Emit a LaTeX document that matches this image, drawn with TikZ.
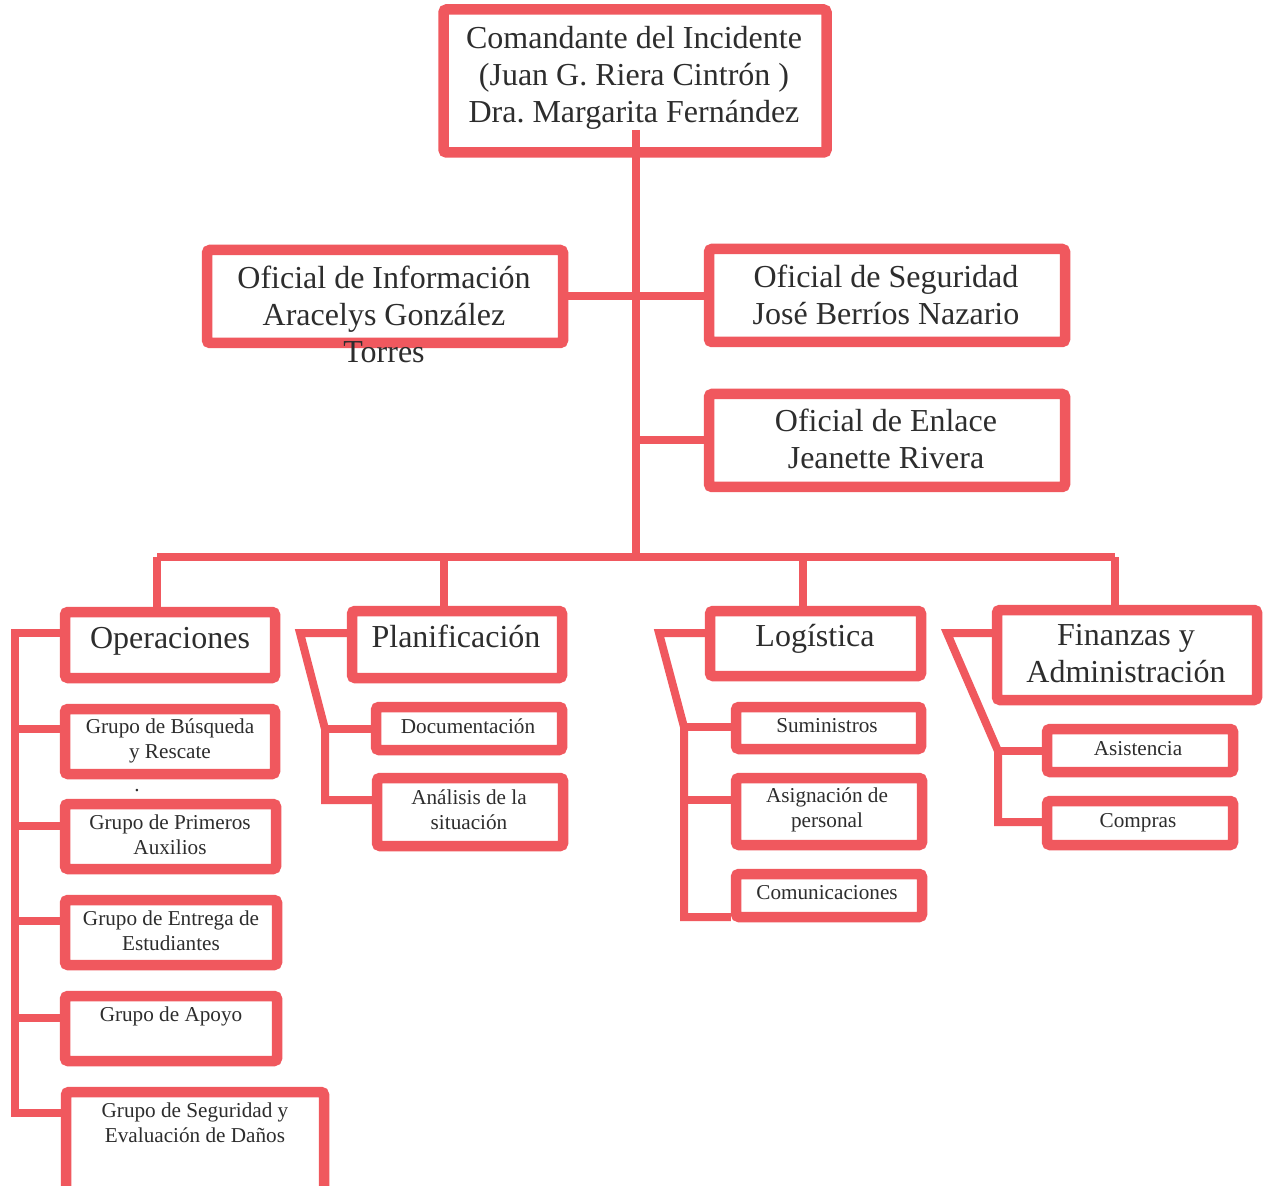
\documentclass[tikz,border=0pt]{standalone}
\usepackage{fontspec}
\setmainfont{Liberation Serif}
\usetikzlibrary{fit}
\definecolor{boxred}{RGB}{240,88,94}
\definecolor{txt}{RGB}{45,45,45}
\frenchspacing
\begin{document}
\begin{tikzpicture}[x=0.5pt,y=-0.5pt,
 box/.style={draw=boxred, line width=5.25pt, rounded corners=1.5pt, inner sep=0pt},
 conn/.style={draw=boxred, line width=4pt, line join=miter},
 big/.style={text=txt, font=\fontsize{16}{18.5}\selectfont, align=center, inner sep=0pt},
 small/.style={text=txt, font=\fontsize{10.6}{12.5}\selectfont, align=center, inner sep=0pt}]
\clip (0,0) rectangle (1267,1186);
\fill[white] (0,0) rectangle (1267,1186);
% boxes
\node[box, fit={(443.5,9.5) (826.5,152.5)}] (cmd) {};
\node[box, fit={(207,250) (563,343)}] (info) {};
\node[box, fit={(709,249) (1065,342)}] (seg) {};
\node[box, fit={(709,394) (1065,487)}] (enl) {};
\node[box, fit={(65,612) (275,678)}] (ops) {};
\node[box, fit={(352,611) (562,678)}] (plan) {};
\node[box, fit={(710,611) (921,676)}] (log) {};
\node[box, fit={(997,610) (1257,700)}] (fin) {};
\node[box, fit={(65,709) (275,774)}] (busq) {};
\node[box, fit={(65,804) (276,869)}] (prim) {};
\node[box, fit={(65,900) (277,965)}] (entr) {};
\node[box, fit={(65,996) (277,1061)}] (apoy) {};
\node[box, fit={(66,1092) (324,1200)}] (sevd) {};
\node[box, fit={(376,707) (562,750)}] (docu) {};
\node[box, fit={(377,778) (563,846)}] (anal) {};
\node[box, fit={(736,707) (921,749)}] (sumi) {};
\node[box, fit={(736,778) (922,845)}] (asig) {};
\node[box, fit={(736,874) (922,917)}] (comu) {};
\node[box, fit={(1047,729) (1233,772)}] (asis) {};
\node[box, fit={(1047,801) (1233,845)}] (comp) {};
% texts
\node[big] (cmdt) at (634,78) {Comandante del Incidente\\(Juan G. Riera Cintrón )\\Dra. Margarita Fernández};
\node[big] (infot) at (384,314) {Oficial de Información\\Aracelys González\\Torres};
\node[big] (segt) at (886,294.5) {Oficial de Seguridad\\José Berríos Nazario};
\node[big] (enlt) at (886,438.5) {Oficial de Enlace\\Jeanette Rivera};
\node[big] (opst) at (170,641) {Operaciones};
\node[big] (plant) at (456,636) {Planificación};
\node[big] (logt) at (815,639) {Logística};
\node[big] (fint) at (1126,654) {Finanzas y\\Administración};
\node[small] (busqt) at (170,740.5) {Grupo de Búsqueda\\y Rescate};
\node[small] (primt) at (170,834.5) {Grupo de Primeros\\Auxilios};
\node[small] (entrt) at (171,930.5) {Grupo de Entrega de\\Estudiantes};
\node[small] (apoyt) at (171,1016) {Grupo de Apoyo};
\node[small] (sevdt) at (195,1122.5) {Grupo de Seguridad y\\Evaluación de Daños};
\node[small] (docut) at (468,726) {Documentación};
\node[small] (analt) at (469,809.5) {Análisis de la\\situación};
\node[small] (sumit) at (827,726) {Suministros};
\node[small] (asigt) at (827,810) {Asignación de\\personal};
\node[small] (comut) at (827,893) {Comunicaciones};
\node[small] (asist) at (1138,749) {Asistencia};
\node[small] (compt) at (1138,823) {Compras};
\node[small] (dot) at (137,791) {.};
% trunk
\coordinate (trtop) at (636,130);
\coordinate (j1) at (636,296);
\coordinate (j2) at (636,440);
\coordinate (bc) at (636,557);
\draw[conn] (trtop) -- (bc);
\draw[conn] (info.east |- j1) -- (seg.west |- j1);
\draw[conn] (j2) -- (enl.west |- j2);
\coordinate (bl) at (157,557);
\coordinate (d2) at (444,557);
\coordinate (d3) at (803,557);
\coordinate (br) at (1115,557);
\draw[conn] (bl) -- (br);
\draw[conn] (bl) -- (bl |- ops.north);
\draw[conn] (d2) -- (d2 |- plan.north);
\draw[conn] (d3) -- (d3 |- log.north);
\draw[conn] (br) -- (br |- fin.north);
% operaciones bracket
\coordinate (oc) at (15,633);
\coordinate (o1) at (15,729);
\coordinate (o2) at (15,826);
\coordinate (o3) at (15,921);
\coordinate (o4) at (15,1018);
\coordinate (o5) at (15,1113);
\draw[conn] (ops.west |- oc) -- (oc) -- (o5) -- (sevd.west |- o5);
\draw[conn] (o1) -- (busq.west |- o1);
\draw[conn] (o2) -- (prim.west |- o2);
\draw[conn] (o3) -- (entr.west |- o3);
\draw[conn] (o4) -- (apoy.west |- o4);
% planificacion bracket
\coordinate (pc) at (300,633);
\coordinate (pk) at (325,729);
\coordinate (pb) at (325,800);
\draw[conn] (plan.west |- pc) -- (pc) -- (pk) -- (pb) -- (anal.west |- pb);
\draw[conn] (pk) -- (docu.west |- pk);
% logistica bracket
\coordinate (lc) at (659,633);
\coordinate (lk) at (684,727);
\coordinate (lm) at (684,800);
\coordinate (lb) at (684,917);
\draw[conn] (log.west |- lc) -- (lc) -- (lk) -- (lb) -- (comu.west |- lb);
\draw[conn] (lk) -- (sumi.west |- lk);
\draw[conn] (lm) -- (asig.west |- lm);
% finanzas bracket
\coordinate (fc) at (947,633);
\coordinate (fk) at (998,751);
\coordinate (fb) at (998,822);
\draw[conn] (fin.west |- fc) -- (fc) -- (fk) -- (fb) -- (comp.west |- fb);
\draw[conn] (fk) -- (asis.west |- fk);
\end{tikzpicture}
\end{document}
